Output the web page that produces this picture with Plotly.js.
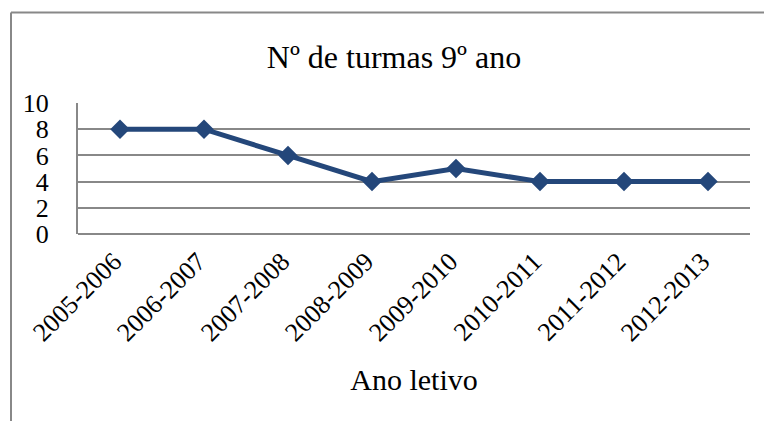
<!DOCTYPE html>
<html>
<head>
<meta charset="utf-8">
<script src="https://cdn.plot.ly/plotly-3.0.1.min.js"></script>
<style>
html,body{margin:0;padding:0;background:#fff;}
#chart{width:764px;height:421px;}
</style>
</head>
<body>
<div id="chart"></div>
<script>
const categories = ["2005-2006","2006-2007","2007-2008","2008-2009","2009-2010","2010-2011","2011-2012","2012-2013"];
const turmas = [8, 8, 6, 4, 5, 4, 4, 4];
const yTicks = [0, 2, 4, 6, 8, 10];
const chartTitle = "Nº de turmas 9º ano";
const xTitle = "Ano letivo";

const W = 764, H = 421;
const L = 78, R = 750, T = 103, B = 234;
const px = v => (v - L) / (R - L);
const py = v => (B - v) / (B - T);
const SERIF = 'Liberation Serif, Times New Roman, serif';

const trace = {
  x: categories,
  y: turmas,
  type: 'scatter',
  mode: 'lines+markers',
  line: {color: '#24477A', width: 5},
  marker: {symbol: 'diamond', size: 15, color: '#24477A'},
  hoverinfo: 'x+y'
};

const layout = {
  width: W, height: H,
  margin: {l: L, r: W - R, t: T, b: H - B, pad: 0},
  paper_bgcolor: '#fff',
  plot_bgcolor: '#fff',
  showlegend: false,
  font: {family: SERIF, color: '#000', size: 26},
  title: {
    text: chartTitle,
    font: {family: SERIF, size: 32, color: '#000'},
    xref: 'container', yref: 'container',
    x: 394 / W, y: 1 - 57 / H, xanchor: 'center', yanchor: 'middle'
  },
  xaxis: {
    type: 'category',
    range: [-0.5, categories.length - 0.5],
    tickangle: -45,
    showgrid: false,
    showline: false,
    zeroline: false,
    ticks: '',
    ticklabelstandoff: 6,
    ticklabelshift: -6,
    tickfont: {family: SERIF, size: 26},
    title: {text: xTitle, font: {family: SERIF, size: 30}, standoff: 22},
    automargin: false
  },
  yaxis: {
    range: [0, 10],
    tickvals: yTicks,
    ticktext: yTicks.map(String),
    showgrid: true,
    gridcolor: '#888888',
    gridwidth: 2,
    showline: true,
    linecolor: '#888888',
    linewidth: 2,
    zeroline: true,
    zerolinecolor: '#888888',
    zerolinewidth: 2,
    ticks: '',
    ticklabelstandoff: 22,
    tickfont: {family: SERIF, size: 26},
    automargin: false
  },
  shapes: [
    {type: 'line', xref: 'paper', yref: 'paper', x0: px(11), x1: px(11), y0: py(12.5), y1: py(425), line: {color: '#888888', width: 2}},
    {type: 'line', xref: 'paper', yref: 'paper', x0: px(11), x1: px(770), y0: py(12.5), y1: py(12.5), line: {color: '#888888', width: 2}}
  ]
};

Plotly.newPlot('chart', [trace], layout, {displayModeBar: false, staticPlot: true});
</script>
</body>
</html>
